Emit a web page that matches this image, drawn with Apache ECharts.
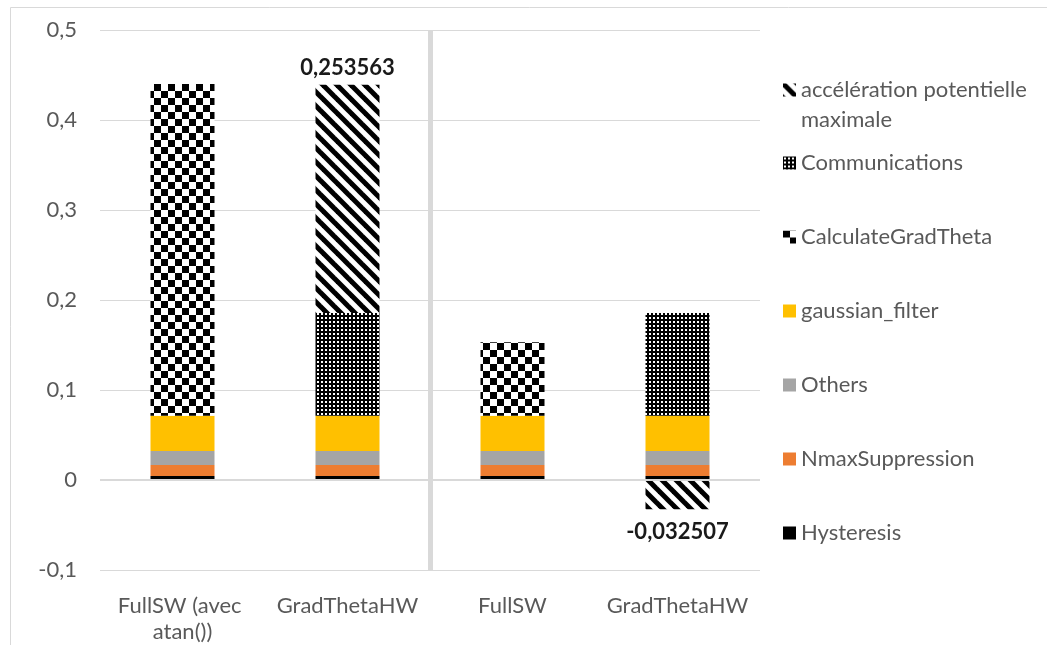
<!DOCTYPE html>
<html>
<head>
<meta charset="utf-8">
<script src="https://cdn.jsdelivr.net/npm/echarts@6/dist/echarts.min.js"></script>
<style>
html,body{margin:0;padding:0;background:#fff;}
#chart{width:1047px;height:645px;}
</style>
</head>
<body>
<div id="chart"></div>
<script>
// ---- data ----
const categories = ['FullSW (avec atan())', 'GradThetaHW', 'FullSW', 'GradThetaHW'];
const hysteresis = [0.0044, 0.0044, 0.0044, 0.0044];
const nmaxSuppression = [0.0123, 0.0123, 0.0123, 0.0123];
const others = [0.0155, 0.0155, 0.0155, 0.0155];
const gaussianFilter = [0.0392, 0.0392, 0.0392, 0.0392];
const calculateGradTheta = [0.3686, '-', 0.0817, '-'];
const communications = ['-', 0.1142, '-', 0.1142];
const acceleration = ['-', 0.253563, '-', -0.032507];
const yMin = -0.1, yMax = 0.5, yStep = 0.1;
// the group separator sits between the 2nd and 3rd category
const separatorAfter = 2;

const ACC = 'accélération potentielle maximale';

// ---- patterns ----
function tile(size, draw) {
  const c = document.createElement('canvas');
  c.width = size; c.height = size;
  const ctx = c.getContext('2d');
  draw(ctx, size);
  return { image: c, repeat: 'repeat' };
}
const checker = tile(14, (ctx, s) => {
  ctx.fillStyle = '#fff'; ctx.fillRect(0, 0, s, s);
  ctx.fillStyle = '#000';
  ctx.fillRect(0, 0, s / 2, s / 2);
  ctx.fillRect(s / 2, s / 2, s / 2, s / 2);
});
const diag = tile(14, (ctx, s) => {
  ctx.fillStyle = '#fff'; ctx.fillRect(0, 0, s, s);
  ctx.strokeStyle = '#000'; ctx.lineWidth = 5;
  for (let k = -1; k <= 1; k++) {
    ctx.beginPath();
    ctx.moveTo(k * s - 2, -2);
    ctx.lineTo(k * s + s + 2, s + 2);
    ctx.stroke();
  }
});
const dots = tile(4, (ctx, s) => {
  ctx.fillStyle = '#000'; ctx.fillRect(0, 0, s, s);
  ctx.fillStyle = '#fff';
  ctx.fillRect(1, 1, 2, 2);
});

const font = 'Lato';
const txt = '#595959';

function bar(name, data, color, extra) {
  return Object.assign({
    name, type: 'bar', stack: 'total', data, barWidth: 64,
    xAxisIndex: 0,
    itemStyle: { color },
    emphasis: { disabled: true }
  }, extra || {});
}

const chart = echarts.init(document.getElementById('chart'), null, { renderer: 'canvas' });
chart.setOption({
  animation: false,
  textStyle: { fontFamily: font },
  graphic: [{
    type: 'rect', left: 8, top: 5, silent: true,
    shape: { width: 1100, height: 700 },
    style: { fill: 'none', stroke: '#d9d9d9', lineWidth: 1 }
  }],
  grid: { left: 100, right: 287, top: 30, bottom: 75 },
  legend: [{
    data: [ACC], orient: 'vertical', left: 783, top: 45, padding: 0,
    icon: 'rect', itemWidth: 13, itemHeight: 13,
    selectedMode: false,
    formatter: () => '\naccélération potentielle\nmaximale',
    textStyle: { fontFamily: font, fontSize: 22, color: txt, lineHeight: 30 }
  }, {
    data: ['Communications', 'CalculateGradTheta', 'gaussian_filter', 'Others', 'NmaxSuppression', 'Hysteresis'],
    orient: 'vertical', left: 783, top: 151, padding: 0, itemGap: 50,
    icon: 'rect', itemWidth: 13, itemHeight: 13,
    selectedMode: false,
    textStyle: { fontFamily: font, fontSize: 22, color: txt, lineHeight: 24 }
  }],
  xAxis: [{
    type: 'category', data: categories,
    axisLine: { show: false, onZero: false },
    axisTick: { show: false },
    axisLabel: {
      color: txt, fontSize: 22, fontFamily: font, lineHeight: 26, margin: 23,
      interval: 0, width: 150, overflow: 'break'
    },
    splitLine: { show: false }
  }, {
    // helper axis spanning the category bands, used only for the separator line
    type: 'value', position: 'top', min: 0, max: categories.length, interval: separatorAfter,
    axisLine: { show: false }, axisTick: { show: false }, axisLabel: { show: false },
    splitLine: {
      show: true,
      lineStyle: { color: ['rgba(0,0,0,0)', '#d9d9d9', 'rgba(0,0,0,0)'], width: 5 }
    }
  }],
  yAxis: {
    type: 'value', min: yMin, max: yMax, interval: yStep,
    axisLine: { show: false }, axisTick: { show: false },
    axisLabel: {
      color: txt, fontSize: 22, fontFamily: font, margin: 23,
      formatter: v => String(Math.round(v * 10) / 10).replace('.', ',')
    },
    splitLine: { lineStyle: { color: '#d9d9d9', width: 1 } }
  },
  series: [
    bar('Hysteresis', hysteresis, '#000000', {
      markLine: {
        silent: true, symbol: 'none', label: { show: false },
        lineStyle: { color: '#d9d9d9', width: 2, type: 'solid' },
        emphasis: { disabled: true },
        data: [{ yAxis: 0 }]
      }
    }),
    bar('NmaxSuppression', nmaxSuppression, '#ED7D31'),
    bar('Others', others, '#A5A5A5'),
    bar('gaussian_filter', gaussianFilter, '#FFC000'),
    bar('CalculateGradTheta', calculateGradTheta, checker),
    bar('Communications', communications, dots),
    bar(ACC, acceleration, diag, {
      label: {
        show: true, position: 'outside', distance: 6,
        fontFamily: font, fontSize: 22, fontWeight: 'bold', color: '#1a1a1a',
        formatter: p => String(p.value).replace('.', ',')
      },
      labelLayout: p => (acceleration[p.dataIndex] < 0 ? { dy: 6 } : {})
    })
  ]
});
</script>
</body>
</html>
